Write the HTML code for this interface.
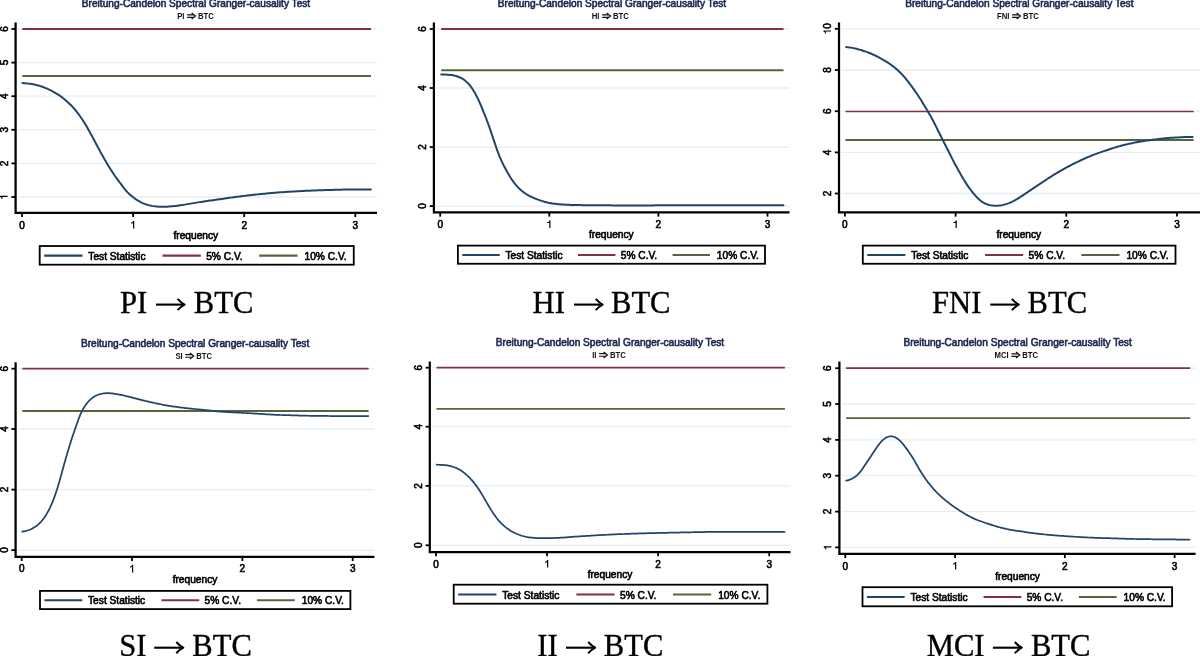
<!DOCTYPE html>
<html><head><meta charset="utf-8"><title>Breitung-Candelon Spectral Granger-causality Tests</title>
<style>html,body{margin:0;padding:0;background:#fff;width:1200px;height:656px;overflow:hidden}svg{display:block;will-change:transform}</style>
</head><body>
<svg width="1200" height="656" viewBox="0 0 1200 656">
<rect width="1200" height="656" fill="#fff"/>
<line x1="18.10" y1="29.00" x2="377.00" y2="29.00" stroke="#e7eef1" stroke-width="1.3"/>
<line x1="18.10" y1="62.60" x2="377.00" y2="62.60" stroke="#e7eef1" stroke-width="1.3"/>
<line x1="18.10" y1="96.20" x2="377.00" y2="96.20" stroke="#e7eef1" stroke-width="1.3"/>
<line x1="18.10" y1="129.80" x2="377.00" y2="129.80" stroke="#e7eef1" stroke-width="1.3"/>
<line x1="18.10" y1="163.40" x2="377.00" y2="163.40" stroke="#e7eef1" stroke-width="1.3"/>
<line x1="18.10" y1="197.00" x2="377.00" y2="197.00" stroke="#e7eef1" stroke-width="1.3"/>
<line x1="22.30" y1="29.00" x2="371.00" y2="29.00" stroke="#86303d" stroke-width="2.00"/>
<line x1="22.30" y1="76.00" x2="371.00" y2="76.00" stroke="#56663b" stroke-width="2.00"/>
<path d="M22.50,83.10 L23.99,83.21 L25.49,83.33 L26.98,83.47 L28.47,83.62 L29.96,83.81 L31.44,84.03 L32.91,84.28 L34.38,84.57 L35.84,84.89 L37.29,85.26 L38.74,85.65 L40.17,86.08 L41.60,86.55 L43.01,87.04 L44.41,87.56 L45.80,88.12 L47.18,88.70 L48.55,89.31 L49.90,89.95 L51.25,90.62 L52.57,91.31 L53.89,92.03 L55.18,92.78 L56.47,93.55 L57.73,94.35 L58.98,95.18 L60.21,96.03 L61.43,96.91 L62.62,97.81 L63.80,98.73 L64.97,99.68 L66.11,100.65 L67.24,101.64 L68.34,102.64 L69.43,103.67 L70.50,104.72 L71.55,105.79 L72.58,106.88 L73.59,107.98 L74.58,109.11 L75.55,110.25 L76.49,111.41 L77.42,112.59 L78.33,113.79 L79.21,115.00 L80.08,116.22 L80.94,117.45 L81.78,118.69 L82.61,119.94 L83.42,121.20 L84.22,122.47 L85.00,123.74 L85.78,125.03 L86.54,126.32 L87.29,127.62 L88.03,128.92 L88.76,130.23 L89.49,131.54 L90.22,132.86 L90.94,134.17 L91.66,135.49 L92.37,136.81 L93.09,138.13 L93.79,139.45 L94.50,140.77 L95.20,142.10 L95.90,143.43 L96.60,144.75 L97.30,146.08 L98.00,147.40 L98.71,148.73 L99.42,150.05 L100.13,151.37 L100.85,152.68 L101.58,153.99 L102.31,155.30 L103.05,156.61 L103.79,157.92 L104.53,159.22 L105.28,160.52 L106.04,161.81 L106.80,163.10 L107.57,164.39 L108.34,165.68 L109.12,166.96 L109.91,168.23 L110.71,169.50 L111.51,170.77 L112.32,172.03 L113.14,173.29 L113.97,174.53 L114.82,175.77 L115.69,176.99 L116.57,178.20 L117.47,179.40 L118.37,180.60 L119.28,181.79 L120.17,182.99 L121.06,184.20 L121.94,185.41 L122.82,186.62 L123.72,187.81 L124.64,188.99 L125.59,190.14 L126.58,191.26 L127.61,192.34 L128.67,193.39 L129.77,194.40 L130.90,195.39 L132.05,196.35 L133.22,197.28 L134.41,198.18 L135.62,199.06 L136.86,199.91 L138.12,200.71 L139.40,201.46 L140.72,202.17 L142.06,202.81 L143.43,203.40 L144.82,203.94 L146.23,204.42 L147.66,204.86 L149.11,205.24 L150.56,205.58 L152.03,205.87 L153.50,206.12 L154.98,206.32 L156.47,206.48 L157.96,206.61 L159.45,206.70 L160.95,206.75 L162.45,206.77 L163.95,206.75 L165.44,206.71 L166.94,206.65 L168.44,206.56 L169.93,206.46 L171.43,206.35 L172.92,206.22 L174.41,206.08 L175.91,205.92 L177.39,205.74 L178.88,205.55 L180.37,205.34 L181.85,205.11 L183.33,204.87 L184.81,204.63 L186.29,204.38 L187.77,204.13 L189.24,203.87 L190.72,203.62 L192.20,203.37 L193.68,203.12 L195.16,202.87 L196.64,202.62 L198.12,202.37 L199.60,202.13 L201.08,201.89 L202.56,201.66 L204.04,201.44 L205.53,201.22 L207.01,201.02 L208.50,200.81 L209.99,200.61 L211.47,200.41 L212.96,200.21 L214.44,200.00 L215.93,199.79 L217.41,199.57 L218.90,199.36 L220.38,199.14 L221.87,198.93 L223.35,198.71 L224.83,198.49 L226.32,198.27 L227.80,198.06 L229.29,197.84 L230.77,197.63 L232.26,197.42 L233.74,197.22 L235.23,197.01 L236.72,196.82 L238.20,196.62 L239.69,196.43 L241.18,196.25 L242.67,196.06 L244.16,195.88 L245.65,195.70 L247.14,195.53 L248.63,195.35 L250.12,195.18 L251.61,195.01 L253.10,194.85 L254.59,194.69 L256.08,194.53 L257.57,194.37 L259.07,194.22 L260.56,194.07 L262.05,193.93 L263.54,193.78 L265.04,193.64 L266.53,193.50 L268.02,193.37 L269.52,193.23 L271.01,193.10 L272.51,192.97 L274.00,192.84 L275.50,192.72 L276.99,192.60 L278.49,192.48 L279.98,192.37 L281.48,192.26 L282.98,192.15 L284.47,192.05 L285.97,191.95 L287.46,191.85 L288.96,191.75 L290.46,191.66 L291.96,191.57 L293.45,191.48 L294.95,191.39 L296.45,191.31 L297.95,191.23 L299.44,191.15 L300.94,191.07 L302.44,190.99 L303.94,190.92 L305.44,190.85 L306.94,190.78 L308.43,190.72 L309.93,190.66 L311.43,190.59 L312.93,190.54 L314.43,190.48 L315.93,190.42 L317.43,190.37 L318.93,190.32 L320.43,190.26 L321.92,190.21 L323.42,190.17 L324.92,190.12 L326.42,190.07 L327.92,190.03 L329.42,189.99 L330.92,189.94 L332.42,189.90 L333.92,189.86 L335.42,189.82 L336.92,189.78 L338.42,189.74 L339.92,189.70 L341.42,189.66 L342.92,189.62 L344.42,189.58 L345.91,189.55 L347.41,189.51 L348.91,189.49 L350.41,189.46 L351.91,189.44 L353.41,189.43 L354.91,189.42 L356.41,189.41 L357.91,189.41 L359.41,189.40 L360.91,189.40 L362.41,189.40 L363.91,189.40 L365.41,189.40 L366.91,189.40 L368.41,189.40 L369.91,189.40 L370.91,189.40" fill="none" stroke="#214569" stroke-width="2.00" stroke-linejoin="round" stroke-linecap="round"/>
<path d="M15.60,22.50 L15.60,212.90 L377.00,212.90" fill="none" stroke="#000" stroke-width="2.25"/>
<line x1="11.40" y1="29.00" x2="15.60" y2="29.00" stroke="#000" stroke-width="1.8"/>
<g transform="translate(7.60,29.00) rotate(-90)"><text x="-2.78" y="0.00" font-size="10.0" font-family="Liberation Sans, sans-serif" fill="#000" stroke="#000" stroke-width="0.60">6</text></g>
<line x1="11.40" y1="62.60" x2="15.60" y2="62.60" stroke="#000" stroke-width="1.8"/>
<g transform="translate(7.60,62.60) rotate(-90)"><text x="-2.78" y="0.00" font-size="10.0" font-family="Liberation Sans, sans-serif" fill="#000" stroke="#000" stroke-width="0.60">5</text></g>
<line x1="11.40" y1="96.20" x2="15.60" y2="96.20" stroke="#000" stroke-width="1.8"/>
<g transform="translate(7.60,96.20) rotate(-90)"><text x="-2.78" y="0.00" font-size="10.0" font-family="Liberation Sans, sans-serif" fill="#000" stroke="#000" stroke-width="0.60">4</text></g>
<line x1="11.40" y1="129.80" x2="15.60" y2="129.80" stroke="#000" stroke-width="1.8"/>
<g transform="translate(7.60,129.80) rotate(-90)"><text x="-2.78" y="0.00" font-size="10.0" font-family="Liberation Sans, sans-serif" fill="#000" stroke="#000" stroke-width="0.60">3</text></g>
<line x1="11.40" y1="163.40" x2="15.60" y2="163.40" stroke="#000" stroke-width="1.8"/>
<g transform="translate(7.60,163.40) rotate(-90)"><text x="-2.78" y="0.00" font-size="10.0" font-family="Liberation Sans, sans-serif" fill="#000" stroke="#000" stroke-width="0.60">2</text></g>
<line x1="11.40" y1="197.00" x2="15.60" y2="197.00" stroke="#000" stroke-width="1.8"/>
<g transform="translate(7.60,197.00) rotate(-90)"><path d="M1.17,-7.60 L-0.03,-7.60 C-0.18,-6.70 -0.78,-6.00 -2.03,-5.90 L-2.03,-4.95 C-1.08,-4.95 -0.43,-5.20 -0.03,-5.55 L-0.03,0.00 L1.17,0.00 Z" fill="#000"/></g>
<line x1="22.00" y1="212.90" x2="22.00" y2="217.10" stroke="#000" stroke-width="1.8"/>
<text x="19.22" y="228.50" font-size="10.0" font-family="Liberation Sans, sans-serif" fill="#000" stroke="#000" stroke-width="0.60">0</text>
<line x1="133.10" y1="212.90" x2="133.10" y2="217.10" stroke="#000" stroke-width="1.8"/>
<path d="M134.27,220.90 L133.07,220.90 C132.92,221.80 132.32,222.50 131.07,222.60 L131.07,223.55 C132.02,223.55 132.67,223.30 133.07,222.95 L133.07,228.50 L134.27,228.50 Z" fill="#000"/>
<line x1="244.20" y1="212.90" x2="244.20" y2="217.10" stroke="#000" stroke-width="1.8"/>
<text x="241.42" y="228.50" font-size="10.0" font-family="Liberation Sans, sans-serif" fill="#000" stroke="#000" stroke-width="0.60">2</text>
<line x1="355.30" y1="212.90" x2="355.30" y2="217.10" stroke="#000" stroke-width="1.8"/>
<text x="352.52" y="228.50" font-size="10.0" font-family="Liberation Sans, sans-serif" fill="#000" stroke="#000" stroke-width="0.60">3</text>
<text x="195.80" y="238.60" text-anchor="middle" font-size="10.2" font-family="Liberation Sans, sans-serif" fill="#000" stroke="#000" stroke-width="0.60">frequency</text>
<text x="196.00" y="7.10" text-anchor="middle" font-size="10.15" font-family="Liberation Sans, sans-serif" fill="#1a2850" stroke="#1a2850" stroke-width="0.60">Breitung-Candelon Spectral Granger-causality Test</text>
<text transform="translate(177.14,19.00) scale(0.860,1)" font-size="9.0" font-weight="bold" font-family="Liberation Sans, sans-serif" fill="#111">PI</text>
<path d="M187.05,14.80 H193.35 M187.05,17.40 H193.35" stroke="#111" stroke-width="1.15" fill="none"/><path d="M191.65,13.10 L195.35,16.10 L191.65,19.10" stroke="#111" stroke-width="1.3" fill="none" stroke-linejoin="miter"/>
<text transform="translate(197.95,19.00) scale(0.860,1)" font-size="9.0" font-weight="bold" font-family="Liberation Sans, sans-serif" fill="#111">BTC</text>
<rect x="39.70" y="246.00" width="314.05" height="18.70" fill="#fff" stroke="#000" stroke-width="1.8"/>
<line x1="44.20" y1="255.63" x2="82.50" y2="255.63" stroke="#214569" stroke-width="2.1"/>
<text x="88.30" y="259.65" font-size="10.2" font-family="Liberation Sans, sans-serif" fill="#000" stroke="#000" stroke-width="0.60">Test Statistic</text>
<line x1="162.50" y1="255.63" x2="200.80" y2="255.63" stroke="#86303d" stroke-width="2.1"/>
<text x="206.20" y="259.65" font-size="10.2" font-family="Liberation Sans, sans-serif" fill="#000" stroke="#000" stroke-width="0.60">5% C.V.</text>
<line x1="259.20" y1="255.63" x2="297.50" y2="255.63" stroke="#56663b" stroke-width="2.1"/>
<text x="304.50" y="259.65" font-size="10.2" font-family="Liberation Sans, sans-serif" fill="#000" stroke="#000" stroke-width="0.60">10% C.V.</text>
<text x="120.05" y="312.50" font-size="30.6" font-family="Liberation Serif, serif" fill="#000" stroke="#000" stroke-width="0.35">PI</text>
<path d="M156.00,304.60 H183.80" stroke="#000" stroke-width="2.1" fill="none"/><path d="M177.60,298.90 Q181.20,302.90 184.60,304.60 Q181.20,306.30 177.60,310.10" stroke="#000" stroke-width="2.0" fill="none" stroke-linejoin="round"/>
<text x="193.85" y="312.50" font-size="30.6" font-family="Liberation Serif, serif" fill="#000" stroke="#000" stroke-width="0.35">BTC</text>
<line x1="436.40" y1="29.00" x2="789.50" y2="29.00" stroke="#e7eef1" stroke-width="1.3"/>
<line x1="436.40" y1="88.00" x2="789.50" y2="88.00" stroke="#e7eef1" stroke-width="1.3"/>
<line x1="436.40" y1="147.10" x2="789.50" y2="147.10" stroke="#e7eef1" stroke-width="1.3"/>
<line x1="436.40" y1="206.10" x2="789.50" y2="206.10" stroke="#e7eef1" stroke-width="1.3"/>
<line x1="441.20" y1="29.00" x2="783.50" y2="29.00" stroke="#86303d" stroke-width="2.00"/>
<line x1="441.20" y1="70.30" x2="783.50" y2="70.30" stroke="#56663b" stroke-width="2.00"/>
<path d="M441.20,74.40 L442.70,74.45 L444.20,74.50 L445.69,74.56 L447.19,74.65 L448.68,74.76 L450.17,74.91 L451.65,75.10 L453.12,75.34 L454.58,75.65 L456.02,76.01 L457.44,76.45 L458.84,76.96 L460.19,77.55 L461.52,78.22 L462.79,78.96 L464.02,79.79 L465.21,80.68 L466.34,81.64 L467.42,82.66 L468.45,83.74 L469.43,84.86 L470.37,86.01 L471.27,87.21 L472.13,88.43 L472.95,89.68 L473.74,90.95 L474.50,92.24 L475.23,93.54 L475.94,94.86 L476.63,96.20 L477.30,97.54 L477.96,98.89 L478.60,100.24 L479.23,101.60 L479.84,102.97 L480.44,104.34 L481.03,105.72 L481.61,107.10 L482.19,108.49 L482.75,109.88 L483.32,111.27 L483.87,112.66 L484.43,114.06 L484.98,115.45 L485.52,116.85 L486.07,118.25 L486.60,119.65 L487.13,121.05 L487.66,122.46 L488.18,123.86 L488.69,125.27 L489.20,126.68 L489.70,128.10 L490.19,129.51 L490.68,130.93 L491.16,132.35 L491.64,133.77 L492.12,135.20 L492.59,136.62 L493.07,138.04 L493.55,139.46 L494.02,140.89 L494.50,142.31 L494.99,143.73 L495.47,145.15 L495.95,146.57 L496.44,147.99 L496.93,149.40 L497.43,150.82 L497.94,152.23 L498.46,153.63 L499.00,155.03 L499.55,156.43 L500.13,157.81 L500.73,159.18 L501.34,160.55 L501.98,161.91 L502.63,163.26 L503.30,164.60 L503.99,165.93 L504.68,167.26 L505.39,168.58 L506.11,169.90 L506.83,171.21 L507.56,172.52 L508.30,173.83 L509.06,175.12 L509.83,176.41 L510.62,177.68 L511.43,178.94 L512.27,180.17 L513.14,181.40 L514.04,182.60 L514.96,183.78 L515.91,184.93 L516.89,186.06 L517.89,187.17 L518.94,188.24 L520.01,189.27 L521.12,190.27 L522.27,191.23 L523.45,192.14 L524.66,193.02 L525.90,193.85 L527.17,194.64 L528.46,195.39 L529.78,196.10 L531.12,196.76 L532.47,197.40 L533.85,197.99 L535.23,198.56 L536.63,199.11 L538.03,199.64 L539.44,200.15 L540.85,200.64 L542.28,201.11 L543.70,201.56 L545.14,201.96 L546.59,202.33 L548.05,202.66 L549.52,202.95 L550.99,203.21 L552.47,203.44 L553.96,203.65 L555.45,203.83 L556.94,204.00 L558.43,204.16 L559.92,204.30 L561.41,204.42 L562.91,204.53 L564.41,204.62 L565.90,204.70 L567.40,204.77 L568.90,204.83 L570.40,204.88 L571.90,204.92 L573.40,204.96 L574.90,205.00 L576.40,205.03 L577.90,205.07 L579.40,205.10 L580.90,205.12 L582.40,205.15 L583.90,205.17 L585.40,205.19 L586.90,205.21 L588.40,205.23 L589.90,205.25 L591.40,205.26 L592.90,205.28 L594.40,205.29 L595.90,205.30 L597.40,205.31 L598.90,205.32 L600.40,205.32 L601.90,205.33 L603.40,205.34 L604.90,205.35 L606.40,205.35 L607.90,205.36 L609.40,205.37 L610.90,205.37 L612.40,205.38 L613.90,205.38 L615.40,205.39 L616.90,205.39 L618.40,205.39 L619.90,205.39 L621.40,205.40 L622.90,205.40 L624.40,205.40 L625.90,205.40 L627.40,205.40 L628.90,205.40 L630.40,205.40 L631.90,205.40 L633.40,205.40 L634.90,205.40 L636.40,205.40 L637.90,205.39 L639.40,205.39 L640.90,205.39 L642.40,205.39 L643.90,205.39 L645.40,205.39 L646.90,205.38 L648.40,205.38 L649.90,205.38 L651.40,205.38 L652.90,205.38 L654.40,205.37 L655.90,205.37 L657.40,205.37 L658.90,205.37 L660.40,205.37 L661.90,205.36 L663.40,205.36 L664.90,205.36 L666.40,205.36 L667.90,205.35 L669.40,205.35 L670.90,205.35 L672.40,205.34 L673.90,205.34 L675.40,205.34 L676.90,205.34 L678.40,205.33 L679.90,205.33 L681.40,205.33 L682.90,205.33 L684.40,205.32 L685.90,205.32 L687.40,205.32 L688.90,205.32 L690.40,205.31 L691.90,205.31 L693.40,205.31 L694.90,205.31 L696.40,205.31 L697.90,205.30 L699.40,205.30 L700.90,205.30 L702.40,205.30 L703.90,205.30 L705.40,205.29 L706.90,205.29 L708.40,205.29 L709.90,205.29 L711.40,205.29 L712.90,205.28 L714.40,205.28 L715.90,205.28 L717.40,205.28 L718.90,205.28 L720.40,205.27 L721.90,205.27 L723.40,205.27 L724.90,205.27 L726.40,205.27 L727.90,205.27 L729.40,205.26 L730.90,205.26 L732.40,205.26 L733.90,205.26 L735.40,205.26 L736.90,205.25 L738.40,205.25 L739.90,205.25 L741.40,205.25 L742.90,205.25 L744.40,205.25 L745.90,205.24 L747.40,205.24 L748.90,205.24 L750.40,205.24 L751.90,205.24 L753.40,205.23 L754.90,205.23 L756.40,205.23 L757.90,205.23 L759.40,205.23 L760.90,205.23 L762.40,205.22 L763.90,205.22 L765.40,205.22 L766.90,205.22 L768.40,205.22 L769.90,205.22 L771.40,205.21 L772.90,205.21 L774.40,205.21 L775.90,205.21 L777.40,205.21 L778.90,205.21 L780.40,205.20 L781.90,205.20 L783.40,205.20" fill="none" stroke="#214569" stroke-width="2.00" stroke-linejoin="round" stroke-linecap="round"/>
<path d="M433.90,22.60 L433.90,212.40 L789.50,212.40" fill="none" stroke="#000" stroke-width="2.25"/>
<line x1="429.70" y1="29.00" x2="433.90" y2="29.00" stroke="#000" stroke-width="1.8"/>
<g transform="translate(425.90,29.00) rotate(-90)"><text x="-2.78" y="0.00" font-size="10.0" font-family="Liberation Sans, sans-serif" fill="#000" stroke="#000" stroke-width="0.60">6</text></g>
<line x1="429.70" y1="88.00" x2="433.90" y2="88.00" stroke="#000" stroke-width="1.8"/>
<g transform="translate(425.90,88.00) rotate(-90)"><text x="-2.78" y="0.00" font-size="10.0" font-family="Liberation Sans, sans-serif" fill="#000" stroke="#000" stroke-width="0.60">4</text></g>
<line x1="429.70" y1="147.10" x2="433.90" y2="147.10" stroke="#000" stroke-width="1.8"/>
<g transform="translate(425.90,147.10) rotate(-90)"><text x="-2.78" y="0.00" font-size="10.0" font-family="Liberation Sans, sans-serif" fill="#000" stroke="#000" stroke-width="0.60">2</text></g>
<line x1="429.70" y1="206.10" x2="433.90" y2="206.10" stroke="#000" stroke-width="1.8"/>
<g transform="translate(425.90,206.10) rotate(-90)"><text x="-2.78" y="0.00" font-size="10.0" font-family="Liberation Sans, sans-serif" fill="#000" stroke="#000" stroke-width="0.60">0</text></g>
<line x1="440.20" y1="212.40" x2="440.20" y2="216.60" stroke="#000" stroke-width="1.8"/>
<text x="437.42" y="228.00" font-size="10.0" font-family="Liberation Sans, sans-serif" fill="#000" stroke="#000" stroke-width="0.60">0</text>
<line x1="549.30" y1="212.40" x2="549.30" y2="216.60" stroke="#000" stroke-width="1.8"/>
<path d="M550.47,220.40 L549.27,220.40 C549.12,221.30 548.52,222.00 547.27,222.10 L547.27,223.05 C548.22,223.05 548.87,222.80 549.27,222.45 L549.27,228.00 L550.47,228.00 Z" fill="#000"/>
<line x1="658.40" y1="212.40" x2="658.40" y2="216.60" stroke="#000" stroke-width="1.8"/>
<text x="655.62" y="228.00" font-size="10.0" font-family="Liberation Sans, sans-serif" fill="#000" stroke="#000" stroke-width="0.60">2</text>
<line x1="767.50" y1="212.40" x2="767.50" y2="216.60" stroke="#000" stroke-width="1.8"/>
<text x="764.72" y="228.00" font-size="10.0" font-family="Liberation Sans, sans-serif" fill="#000" stroke="#000" stroke-width="0.60">3</text>
<text x="611.30" y="238.10" text-anchor="middle" font-size="10.2" font-family="Liberation Sans, sans-serif" fill="#000" stroke="#000" stroke-width="0.60">frequency</text>
<text x="612.00" y="7.10" text-anchor="middle" font-size="10.15" font-family="Liberation Sans, sans-serif" fill="#1a2850" stroke="#1a2850" stroke-width="0.60">Breitung-Candelon Spectral Granger-causality Test</text>
<text transform="translate(591.72,19.00) scale(0.860,1)" font-size="9.0" font-weight="bold" font-family="Liberation Sans, sans-serif" fill="#111">HI</text>
<path d="M602.07,14.80 H608.37 M602.07,17.40 H608.37" stroke="#111" stroke-width="1.15" fill="none"/><path d="M606.67,13.10 L610.37,16.10 L606.67,19.10" stroke="#111" stroke-width="1.3" fill="none" stroke-linejoin="miter"/>
<text transform="translate(612.97,19.00) scale(0.860,1)" font-size="9.0" font-weight="bold" font-family="Liberation Sans, sans-serif" fill="#111">BTC</text>
<rect x="457.90" y="245.60" width="307.10" height="18.15" fill="#fff" stroke="#000" stroke-width="1.8"/>
<line x1="462.30" y1="254.95" x2="499.75" y2="254.95" stroke="#214569" stroke-width="2.1"/>
<text x="505.42" y="258.85" font-size="10.2" font-family="Liberation Sans, sans-serif" fill="#000" stroke="#000" stroke-width="0.60">Test Statistic</text>
<line x1="577.98" y1="254.95" x2="615.43" y2="254.95" stroke="#86303d" stroke-width="2.1"/>
<text x="620.72" y="258.85" font-size="10.2" font-family="Liberation Sans, sans-serif" fill="#000" stroke="#000" stroke-width="0.60">5% C.V.</text>
<line x1="672.54" y1="254.95" x2="709.99" y2="254.95" stroke="#56663b" stroke-width="2.1"/>
<text x="716.84" y="258.85" font-size="10.2" font-family="Liberation Sans, sans-serif" fill="#000" stroke="#000" stroke-width="0.60">10% C.V.</text>
<text x="532.60" y="312.50" font-size="30.6" font-family="Liberation Serif, serif" fill="#000" stroke="#000" stroke-width="0.35">HI</text>
<path d="M574.00,304.60 H601.90" stroke="#000" stroke-width="2.1" fill="none"/><path d="M595.70,298.90 Q599.30,302.90 602.70,304.60 Q599.30,306.30 595.70,310.10" stroke="#000" stroke-width="2.0" fill="none" stroke-linejoin="round"/>
<text x="611.02" y="312.50" font-size="30.6" font-family="Liberation Serif, serif" fill="#000" stroke="#000" stroke-width="0.35">BTC</text>
<line x1="841.50" y1="28.80" x2="1201.00" y2="28.80" stroke="#e7eef1" stroke-width="1.3"/>
<line x1="841.50" y1="70.00" x2="1201.00" y2="70.00" stroke="#e7eef1" stroke-width="1.3"/>
<line x1="841.50" y1="111.20" x2="1201.00" y2="111.20" stroke="#e7eef1" stroke-width="1.3"/>
<line x1="841.50" y1="152.40" x2="1201.00" y2="152.40" stroke="#e7eef1" stroke-width="1.3"/>
<line x1="841.50" y1="193.50" x2="1201.00" y2="193.50" stroke="#e7eef1" stroke-width="1.3"/>
<line x1="845.50" y1="111.40" x2="1193.70" y2="111.40" stroke="#86303d" stroke-width="1.50"/>
<line x1="845.50" y1="139.90" x2="1193.70" y2="139.90" stroke="#56663b" stroke-width="2.00"/>
<path d="M846.20,47.10 L847.69,47.26 L849.18,47.43 L850.66,47.63 L852.14,47.86 L853.61,48.13 L855.07,48.45 L856.52,48.80 L857.97,49.18 L859.41,49.59 L860.85,50.02 L862.28,50.47 L863.70,50.93 L865.12,51.41 L866.54,51.91 L867.94,52.43 L869.34,52.97 L870.73,53.54 L872.11,54.12 L873.48,54.73 L874.84,55.36 L876.19,56.01 L877.53,56.68 L878.86,57.37 L880.18,58.08 L881.49,58.81 L882.79,59.56 L884.08,60.32 L885.36,61.10 L886.63,61.90 L887.89,62.71 L889.14,63.53 L890.38,64.37 L891.61,65.24 L892.82,66.12 L894.01,67.02 L895.19,67.95 L896.34,68.91 L897.46,69.90 L898.56,70.91 L899.64,71.95 L900.70,73.01 L901.73,74.09 L902.75,75.19 L903.74,76.31 L904.72,77.45 L905.68,78.60 L906.63,79.76 L907.56,80.94 L908.48,82.13 L909.39,83.32 L910.29,84.52 L911.18,85.72 L912.06,86.93 L912.94,88.15 L913.81,89.37 L914.68,90.59 L915.54,91.83 L916.38,93.06 L917.23,94.30 L918.06,95.55 L918.88,96.80 L919.70,98.06 L920.51,99.32 L921.31,100.59 L922.11,101.86 L922.89,103.14 L923.68,104.42 L924.45,105.70 L925.23,106.99 L926.00,108.28 L926.76,109.57 L927.52,110.86 L928.28,112.15 L929.04,113.45 L929.79,114.74 L930.54,116.04 L931.27,117.35 L932.00,118.66 L932.71,119.98 L933.41,121.31 L934.09,122.64 L934.77,123.98 L935.44,125.33 L936.10,126.67 L936.77,128.01 L937.43,129.36 L938.10,130.70 L938.77,132.05 L939.44,133.39 L940.11,134.73 L940.78,136.07 L941.45,137.41 L942.13,138.75 L942.81,140.09 L943.49,141.42 L944.17,142.76 L944.86,144.09 L945.54,145.43 L946.23,146.76 L946.91,148.10 L947.59,149.44 L948.26,150.78 L948.93,152.12 L949.60,153.46 L950.27,154.80 L950.93,156.15 L951.60,157.49 L952.27,158.83 L952.95,160.17 L953.63,161.51 L954.32,162.84 L955.02,164.16 L955.73,165.48 L956.45,166.80 L957.18,168.11 L957.91,169.42 L958.65,170.73 L959.39,172.03 L960.13,173.34 L960.87,174.64 L961.62,175.94 L962.37,177.24 L963.12,178.54 L963.89,179.82 L964.67,181.10 L965.46,182.38 L966.28,183.63 L967.11,184.88 L967.96,186.12 L968.82,187.34 L969.70,188.56 L970.60,189.76 L971.51,190.95 L972.43,192.13 L973.38,193.29 L974.34,194.44 L975.31,195.58 L976.32,196.69 L977.34,197.78 L978.40,198.83 L979.49,199.84 L980.63,200.79 L981.81,201.67 L983.05,202.48 L984.34,203.19 L985.67,203.80 L987.05,204.33 L988.47,204.77 L989.91,205.12 L991.36,205.40 L992.83,205.60 L994.31,205.72 L995.80,205.76 L997.28,205.73 L998.76,205.61 L1000.24,205.42 L1001.71,205.18 L1003.17,204.87 L1004.62,204.51 L1006.05,204.10 L1007.47,203.64 L1008.88,203.13 L1010.26,202.57 L1011.63,201.97 L1012.97,201.32 L1014.29,200.62 L1015.60,199.89 L1016.89,199.13 L1018.16,198.34 L1019.43,197.54 L1020.70,196.74 L1021.96,195.92 L1023.21,195.10 L1024.47,194.28 L1025.72,193.45 L1026.97,192.62 L1028.21,191.79 L1029.46,190.95 L1030.71,190.12 L1031.95,189.28 L1033.19,188.44 L1034.44,187.61 L1035.68,186.77 L1036.93,185.93 L1038.17,185.09 L1039.41,184.25 L1040.66,183.41 L1041.90,182.57 L1043.15,181.74 L1044.39,180.91 L1045.65,180.08 L1046.90,179.25 L1048.15,178.43 L1049.41,177.62 L1050.68,176.81 L1051.94,176.01 L1053.22,175.21 L1054.49,174.42 L1055.77,173.64 L1057.06,172.87 L1058.35,172.10 L1059.64,171.35 L1060.94,170.60 L1062.24,169.85 L1063.55,169.12 L1064.86,168.39 L1066.18,167.67 L1067.50,166.96 L1068.82,166.25 L1070.15,165.56 L1071.48,164.87 L1072.81,164.18 L1074.15,163.51 L1075.50,162.84 L1076.84,162.18 L1078.19,161.53 L1079.55,160.88 L1080.91,160.25 L1082.27,159.62 L1083.63,159.00 L1085.00,158.38 L1086.38,157.78 L1087.75,157.19 L1089.13,156.60 L1090.52,156.03 L1091.91,155.47 L1093.31,154.92 L1094.71,154.39 L1096.12,153.87 L1097.53,153.37 L1098.94,152.87 L1100.36,152.37 L1101.78,151.88 L1103.19,151.40 L1104.61,150.91 L1106.04,150.43 L1107.46,149.96 L1108.88,149.49 L1110.31,149.02 L1111.73,148.56 L1113.16,148.10 L1114.60,147.66 L1116.03,147.22 L1117.47,146.79 L1118.91,146.38 L1120.35,145.97 L1121.80,145.58 L1123.25,145.21 L1124.71,144.84 L1126.16,144.48 L1127.62,144.14 L1129.08,143.80 L1130.55,143.48 L1132.02,143.16 L1133.48,142.86 L1134.96,142.57 L1136.43,142.29 L1137.90,142.02 L1139.38,141.76 L1140.86,141.51 L1142.34,141.27 L1143.82,141.04 L1145.31,140.82 L1146.79,140.60 L1148.27,140.39 L1149.76,140.18 L1151.25,139.98 L1152.73,139.78 L1154.22,139.58 L1155.71,139.39 L1157.20,139.20 L1158.68,139.02 L1160.17,138.85 L1161.66,138.68 L1163.16,138.52 L1164.65,138.36 L1166.14,138.22 L1167.63,138.09 L1169.13,137.97 L1170.62,137.85 L1172.12,137.75 L1173.62,137.64 L1175.11,137.55 L1176.61,137.46 L1178.11,137.38 L1179.61,137.31 L1181.11,137.24 L1182.60,137.18 L1184.10,137.12 L1185.60,137.08 L1187.10,137.03 L1188.60,136.99 L1190.10,136.96 L1191.60,136.92 L1192.60,136.90" fill="none" stroke="#214569" stroke-width="2.00" stroke-linejoin="round" stroke-linecap="round"/>
<path d="M839.00,22.60 L839.00,212.40 L1201.00,212.40" fill="none" stroke="#000" stroke-width="2.25"/>
<line x1="834.80" y1="28.80" x2="839.00" y2="28.80" stroke="#000" stroke-width="1.8"/>
<g transform="translate(831.00,28.80) rotate(-90)"><path d="M-1.61,-7.60 L-2.81,-7.60 C-2.96,-6.70 -3.56,-6.00 -4.81,-5.90 L-4.81,-4.95 C-3.86,-4.95 -3.21,-5.20 -2.81,-5.55 L-2.81,0.00 L-1.61,0.00 Z" fill="#000"/><text x="0.00" y="0.00" font-size="10.0" font-family="Liberation Sans, sans-serif" fill="#000" stroke="#000" stroke-width="0.60">0</text></g>
<line x1="834.80" y1="70.00" x2="839.00" y2="70.00" stroke="#000" stroke-width="1.8"/>
<g transform="translate(831.00,70.00) rotate(-90)"><text x="-2.78" y="0.00" font-size="10.0" font-family="Liberation Sans, sans-serif" fill="#000" stroke="#000" stroke-width="0.60">8</text></g>
<line x1="834.80" y1="111.20" x2="839.00" y2="111.20" stroke="#000" stroke-width="1.8"/>
<g transform="translate(831.00,111.20) rotate(-90)"><text x="-2.78" y="0.00" font-size="10.0" font-family="Liberation Sans, sans-serif" fill="#000" stroke="#000" stroke-width="0.60">6</text></g>
<line x1="834.80" y1="152.40" x2="839.00" y2="152.40" stroke="#000" stroke-width="1.8"/>
<g transform="translate(831.00,152.40) rotate(-90)"><text x="-2.78" y="0.00" font-size="10.0" font-family="Liberation Sans, sans-serif" fill="#000" stroke="#000" stroke-width="0.60">4</text></g>
<line x1="834.80" y1="193.50" x2="839.00" y2="193.50" stroke="#000" stroke-width="1.8"/>
<g transform="translate(831.00,193.50) rotate(-90)"><text x="-2.78" y="0.00" font-size="10.0" font-family="Liberation Sans, sans-serif" fill="#000" stroke="#000" stroke-width="0.60">2</text></g>
<line x1="844.90" y1="212.40" x2="844.90" y2="216.60" stroke="#000" stroke-width="1.8"/>
<text x="842.12" y="228.00" font-size="10.0" font-family="Liberation Sans, sans-serif" fill="#000" stroke="#000" stroke-width="0.60">0</text>
<line x1="955.60" y1="212.40" x2="955.60" y2="216.60" stroke="#000" stroke-width="1.8"/>
<path d="M956.77,220.40 L955.57,220.40 C955.42,221.30 954.82,222.00 953.57,222.10 L953.57,223.05 C954.52,223.05 955.17,222.80 955.57,222.45 L955.57,228.00 L956.77,228.00 Z" fill="#000"/>
<line x1="1066.30" y1="212.40" x2="1066.30" y2="216.60" stroke="#000" stroke-width="1.8"/>
<text x="1063.52" y="228.00" font-size="10.0" font-family="Liberation Sans, sans-serif" fill="#000" stroke="#000" stroke-width="0.60">2</text>
<line x1="1177.00" y1="212.40" x2="1177.00" y2="216.60" stroke="#000" stroke-width="1.8"/>
<text x="1174.22" y="228.00" font-size="10.0" font-family="Liberation Sans, sans-serif" fill="#000" stroke="#000" stroke-width="0.60">3</text>
<text x="1018.80" y="238.10" text-anchor="middle" font-size="10.2" font-family="Liberation Sans, sans-serif" fill="#000" stroke="#000" stroke-width="0.60">frequency</text>
<text x="1019.30" y="7.10" text-anchor="middle" font-size="10.15" font-family="Liberation Sans, sans-serif" fill="#1a2850" stroke="#1a2850" stroke-width="0.60">Breitung-Candelon Spectral Granger-causality Test</text>
<text transform="translate(996.96,19.00) scale(0.860,1)" font-size="9.0" font-weight="bold" font-family="Liberation Sans, sans-serif" fill="#111">FNI</text>
<path d="M1012.03,14.80 H1018.33 M1012.03,17.40 H1018.33" stroke="#111" stroke-width="1.15" fill="none"/><path d="M1016.63,13.10 L1020.33,16.10 L1016.63,19.10" stroke="#111" stroke-width="1.3" fill="none" stroke-linejoin="miter"/>
<text transform="translate(1022.93,19.00) scale(0.860,1)" font-size="9.0" font-weight="bold" font-family="Liberation Sans, sans-serif" fill="#111">BTC</text>
<rect x="862.80" y="245.60" width="312.70" height="18.15" fill="#fff" stroke="#000" stroke-width="1.8"/>
<line x1="867.28" y1="254.95" x2="905.42" y2="254.95" stroke="#214569" stroke-width="2.1"/>
<text x="911.19" y="258.85" font-size="10.2" font-family="Liberation Sans, sans-serif" fill="#000" stroke="#000" stroke-width="0.60">Test Statistic</text>
<line x1="985.07" y1="254.95" x2="1023.21" y2="254.95" stroke="#86303d" stroke-width="2.1"/>
<text x="1028.58" y="258.85" font-size="10.2" font-family="Liberation Sans, sans-serif" fill="#000" stroke="#000" stroke-width="0.60">5% C.V.</text>
<line x1="1081.36" y1="254.95" x2="1119.49" y2="254.95" stroke="#56663b" stroke-width="2.1"/>
<text x="1126.46" y="258.85" font-size="10.2" font-family="Liberation Sans, sans-serif" fill="#000" stroke="#000" stroke-width="0.60">10% C.V.</text>
<text x="932.10" y="312.50" font-size="30.6" font-family="Liberation Serif, serif" fill="#000" stroke="#000" stroke-width="0.35">FNI</text>
<path d="M990.20,304.60 H1018.00" stroke="#000" stroke-width="2.1" fill="none"/><path d="M1011.80,298.90 Q1015.40,302.90 1018.80,304.60 Q1015.40,306.30 1011.80,310.10" stroke="#000" stroke-width="2.0" fill="none" stroke-linejoin="round"/>
<text x="1027.60" y="312.50" font-size="30.6" font-family="Liberation Serif, serif" fill="#000" stroke="#000" stroke-width="0.35">BTC</text>
<line x1="18.10" y1="368.70" x2="374.40" y2="368.70" stroke="#e7eef1" stroke-width="1.3"/>
<line x1="18.10" y1="429.00" x2="374.40" y2="429.00" stroke="#e7eef1" stroke-width="1.3"/>
<line x1="18.10" y1="489.60" x2="374.40" y2="489.60" stroke="#e7eef1" stroke-width="1.3"/>
<line x1="18.10" y1="550.10" x2="374.40" y2="550.10" stroke="#e7eef1" stroke-width="1.3"/>
<line x1="22.30" y1="368.70" x2="368.60" y2="368.70" stroke="#86303d" stroke-width="1.80"/>
<line x1="22.30" y1="411.00" x2="368.60" y2="411.00" stroke="#56663b" stroke-width="1.80"/>
<path d="M22.30,531.70 L23.76,531.38 L25.22,531.05 L26.66,530.67 L28.09,530.24 L29.49,529.75 L30.87,529.20 L32.21,528.57 L33.52,527.87 L34.79,527.10 L36.02,526.27 L37.20,525.37 L38.33,524.41 L39.42,523.39 L40.46,522.32 L41.45,521.21 L42.41,520.07 L43.33,518.89 L44.21,517.68 L45.06,516.45 L45.87,515.19 L46.66,513.92 L47.41,512.62 L48.14,511.31 L48.84,509.99 L49.52,508.65 L50.18,507.31 L50.81,505.95 L51.43,504.58 L52.02,503.21 L52.60,501.82 L53.15,500.43 L53.69,499.03 L54.21,497.63 L54.72,496.22 L55.21,494.80 L55.70,493.38 L56.17,491.96 L56.64,490.53 L57.10,489.10 L57.55,487.67 L57.99,486.24 L58.42,484.81 L58.85,483.37 L59.27,481.93 L59.67,480.48 L60.08,479.04 L60.47,477.59 L60.87,476.14 L61.26,474.70 L61.65,473.25 L62.05,471.80 L62.44,470.35 L62.84,468.91 L63.24,467.46 L63.64,466.02 L64.05,464.57 L64.45,463.13 L64.86,461.69 L65.28,460.25 L65.69,458.80 L66.11,457.36 L66.52,455.92 L66.94,454.48 L67.36,453.04 L67.79,451.60 L68.22,450.17 L68.65,448.73 L69.09,447.29 L69.53,445.86 L69.97,444.43 L70.42,443.00 L70.87,441.57 L71.33,440.14 L71.79,438.71 L72.26,437.28 L72.73,435.86 L73.20,434.44 L73.68,433.02 L74.16,431.60 L74.65,430.18 L75.14,428.76 L75.64,427.34 L76.14,425.93 L76.63,424.52 L77.14,423.10 L77.64,421.69 L78.15,420.28 L78.67,418.87 L79.20,417.47 L79.75,416.08 L80.32,414.69 L80.92,413.32 L81.56,411.96 L82.22,410.63 L82.93,409.31 L83.68,408.01 L84.47,406.75 L85.30,405.50 L86.17,404.29 L87.08,403.11 L88.04,401.97 L89.04,400.87 L90.09,399.81 L91.18,398.81 L92.33,397.88 L93.53,397.03 L94.79,396.26 L96.10,395.59 L97.45,395.01 L98.84,394.51 L100.27,394.09 L101.71,393.75 L103.17,393.49 L104.64,393.31 L106.13,393.20 L107.61,393.17 L109.10,393.20 L110.59,393.29 L112.08,393.43 L113.57,393.60 L115.05,393.81 L116.53,394.03 L118.01,394.29 L119.48,394.56 L120.95,394.86 L122.42,395.18 L123.88,395.52 L125.33,395.87 L126.79,396.23 L128.24,396.60 L129.70,396.97 L131.15,397.34 L132.60,397.71 L134.06,398.08 L135.51,398.45 L136.97,398.82 L138.42,399.18 L139.87,399.55 L141.33,399.92 L142.78,400.28 L144.24,400.64 L145.70,401.00 L147.15,401.35 L148.61,401.69 L150.08,402.03 L151.54,402.36 L153.00,402.69 L154.47,403.00 L155.94,403.32 L157.40,403.63 L158.87,403.93 L160.34,404.22 L161.82,404.51 L163.29,404.80 L164.76,405.07 L166.24,405.33 L167.72,405.59 L169.20,405.84 L170.68,406.07 L172.16,406.30 L173.64,406.52 L175.13,406.74 L176.61,406.94 L178.10,407.14 L179.59,407.34 L181.08,407.53 L182.56,407.71 L184.05,407.89 L185.54,408.06 L187.03,408.23 L188.52,408.39 L190.02,408.55 L191.51,408.71 L193.00,408.86 L194.49,409.00 L195.99,409.15 L197.48,409.29 L198.97,409.43 L200.47,409.57 L201.96,409.72 L203.45,409.86 L204.94,410.01 L206.44,410.17 L207.93,410.32 L209.42,410.48 L210.91,410.65 L212.40,410.81 L213.89,410.97 L215.38,411.13 L216.88,411.28 L218.37,411.42 L219.86,411.55 L221.36,411.67 L222.85,411.79 L224.35,411.89 L225.85,411.98 L227.34,412.07 L228.84,412.15 L230.34,412.23 L231.84,412.30 L233.34,412.38 L234.83,412.45 L236.33,412.52 L237.83,412.60 L239.33,412.67 L240.83,412.75 L242.33,412.83 L243.82,412.91 L245.32,413.00 L246.82,413.08 L248.32,413.17 L249.81,413.25 L251.31,413.34 L252.81,413.43 L254.31,413.51 L255.80,413.61 L257.30,413.70 L258.80,413.79 L260.29,413.89 L261.79,413.99 L263.29,414.09 L264.78,414.19 L266.28,414.29 L267.78,414.38 L269.27,414.48 L270.77,414.56 L272.27,414.64 L273.77,414.72 L275.27,414.78 L276.76,414.85 L278.26,414.90 L279.76,414.95 L281.26,415.00 L282.76,415.04 L284.26,415.08 L285.76,415.12 L287.26,415.16 L288.76,415.20 L290.26,415.24 L291.76,415.29 L293.26,415.33 L294.76,415.37 L296.26,415.42 L297.76,415.46 L299.25,415.51 L300.75,415.56 L302.25,415.60 L303.75,415.64 L305.25,415.68 L306.75,415.72 L308.25,415.75 L309.75,415.79 L311.25,415.81 L312.75,415.84 L314.25,415.87 L315.75,415.89 L317.25,415.91 L318.75,415.93 L320.25,415.95 L321.75,415.96 L323.25,415.97 L324.75,415.98 L326.25,415.99 L327.75,415.99 L329.25,416.00 L330.75,416.00 L332.25,416.00 L333.75,416.00 L335.25,416.00 L336.75,416.00 L338.25,416.00 L339.75,416.00 L341.25,416.00 L342.75,416.00 L344.25,416.00 L345.75,416.00 L347.25,416.00 L348.75,416.00 L350.25,416.00 L351.75,416.00 L353.25,416.00 L354.75,416.00 L356.25,416.00 L357.75,416.00 L359.25,416.00 L360.75,416.00 L362.25,416.00 L363.75,416.00 L365.25,416.00 L366.75,416.00 L368.25,416.00" fill="none" stroke="#214569" stroke-width="1.75" stroke-linejoin="round" stroke-linecap="round"/>
<path d="M15.60,362.20 L15.60,556.80 L374.40,556.80" fill="none" stroke="#000" stroke-width="2.25"/>
<line x1="11.40" y1="368.70" x2="15.60" y2="368.70" stroke="#000" stroke-width="1.8"/>
<g transform="translate(7.60,368.70) rotate(-90)"><text x="-2.78" y="0.00" font-size="10.0" font-family="Liberation Sans, sans-serif" fill="#000" stroke="#000" stroke-width="0.60">6</text></g>
<line x1="11.40" y1="429.00" x2="15.60" y2="429.00" stroke="#000" stroke-width="1.8"/>
<g transform="translate(7.60,429.00) rotate(-90)"><text x="-2.78" y="0.00" font-size="10.0" font-family="Liberation Sans, sans-serif" fill="#000" stroke="#000" stroke-width="0.60">4</text></g>
<line x1="11.40" y1="489.60" x2="15.60" y2="489.60" stroke="#000" stroke-width="1.8"/>
<g transform="translate(7.60,489.60) rotate(-90)"><text x="-2.78" y="0.00" font-size="10.0" font-family="Liberation Sans, sans-serif" fill="#000" stroke="#000" stroke-width="0.60">2</text></g>
<line x1="11.40" y1="550.10" x2="15.60" y2="550.10" stroke="#000" stroke-width="1.8"/>
<g transform="translate(7.60,550.10) rotate(-90)"><text x="-2.78" y="0.00" font-size="10.0" font-family="Liberation Sans, sans-serif" fill="#000" stroke="#000" stroke-width="0.60">0</text></g>
<line x1="21.70" y1="556.80" x2="21.70" y2="561.00" stroke="#000" stroke-width="1.8"/>
<text x="18.92" y="572.40" font-size="10.0" font-family="Liberation Sans, sans-serif" fill="#000" stroke="#000" stroke-width="0.60">0</text>
<line x1="132.03" y1="556.80" x2="132.03" y2="561.00" stroke="#000" stroke-width="1.8"/>
<path d="M133.20,564.80 L132.00,564.80 C131.85,565.70 131.25,566.40 130.00,566.50 L130.00,567.45 C130.95,567.45 131.60,567.20 132.00,566.85 L132.00,572.40 L133.20,572.40 Z" fill="#000"/>
<line x1="242.36" y1="556.80" x2="242.36" y2="561.00" stroke="#000" stroke-width="1.8"/>
<text x="239.58" y="572.40" font-size="10.0" font-family="Liberation Sans, sans-serif" fill="#000" stroke="#000" stroke-width="0.60">2</text>
<line x1="352.69" y1="556.80" x2="352.69" y2="561.00" stroke="#000" stroke-width="1.8"/>
<text x="349.91" y="572.40" font-size="10.0" font-family="Liberation Sans, sans-serif" fill="#000" stroke="#000" stroke-width="0.60">3</text>
<text x="195.00" y="582.50" text-anchor="middle" font-size="10.2" font-family="Liberation Sans, sans-serif" fill="#000" stroke="#000" stroke-width="0.60">frequency</text>
<text x="195.10" y="346.90" text-anchor="middle" font-size="10.15" font-family="Liberation Sans, sans-serif" fill="#1a2850" stroke="#1a2850" stroke-width="0.60">Breitung-Candelon Spectral Granger-causality Test</text>
<text transform="translate(175.44,358.80) scale(0.860,1)" font-size="9.0" font-weight="bold" font-family="Liberation Sans, sans-serif" fill="#111">SI</text>
<path d="M185.35,354.60 H191.65 M185.35,357.20 H191.65" stroke="#111" stroke-width="1.15" fill="none"/><path d="M189.95,352.90 L193.65,355.90 L189.95,358.90" stroke="#111" stroke-width="1.3" fill="none" stroke-linejoin="miter"/>
<text transform="translate(196.25,358.80) scale(0.860,1)" font-size="9.0" font-weight="bold" font-family="Liberation Sans, sans-serif" fill="#111">BTC</text>
<rect x="40.00" y="590.90" width="310.40" height="18.20" fill="#fff" stroke="#000" stroke-width="1.8"/>
<line x1="44.45" y1="600.27" x2="82.30" y2="600.27" stroke="#214569" stroke-width="2.1"/>
<text x="88.04" y="604.19" font-size="10.2" font-family="Liberation Sans, sans-serif" fill="#000" stroke="#000" stroke-width="0.60">Test Statistic</text>
<line x1="161.37" y1="600.27" x2="199.23" y2="600.27" stroke="#86303d" stroke-width="2.1"/>
<text x="204.56" y="604.19" font-size="10.2" font-family="Liberation Sans, sans-serif" fill="#000" stroke="#000" stroke-width="0.60">5% C.V.</text>
<line x1="256.95" y1="600.27" x2="294.80" y2="600.27" stroke="#56663b" stroke-width="2.1"/>
<text x="301.72" y="604.19" font-size="10.2" font-family="Liberation Sans, sans-serif" fill="#000" stroke="#000" stroke-width="0.60">10% C.V.</text>
<text x="119.15" y="655.60" font-size="30.6" font-family="Liberation Serif, serif" fill="#000" stroke="#000" stroke-width="0.35">SI</text>
<path d="M154.20,647.70 H182.50" stroke="#000" stroke-width="2.1" fill="none"/><path d="M176.30,642.00 Q179.90,646.00 183.30,647.70 Q179.90,649.40 176.30,653.20" stroke="#000" stroke-width="2.0" fill="none" stroke-linejoin="round"/>
<text x="192.35" y="655.60" font-size="30.6" font-family="Liberation Serif, serif" fill="#000" stroke="#000" stroke-width="0.35">BTC</text>
<line x1="432.30" y1="367.70" x2="790.50" y2="367.70" stroke="#e7eef1" stroke-width="1.3"/>
<line x1="432.30" y1="426.70" x2="790.50" y2="426.70" stroke="#e7eef1" stroke-width="1.3"/>
<line x1="432.30" y1="485.90" x2="790.50" y2="485.90" stroke="#e7eef1" stroke-width="1.3"/>
<line x1="432.30" y1="545.30" x2="790.50" y2="545.30" stroke="#e7eef1" stroke-width="1.3"/>
<line x1="436.50" y1="367.70" x2="784.90" y2="367.70" stroke="#86303d" stroke-width="1.80"/>
<line x1="436.50" y1="408.80" x2="784.90" y2="408.80" stroke="#56663b" stroke-width="1.80"/>
<path d="M436.60,464.70 L438.10,464.75 L439.60,464.81 L441.09,464.89 L442.59,464.98 L444.08,465.09 L445.57,465.24 L447.05,465.43 L448.52,465.67 L449.98,465.97 L451.43,466.33 L452.86,466.76 L454.26,467.24 L455.65,467.79 L457.02,468.39 L458.35,469.04 L459.66,469.76 L460.94,470.53 L462.18,471.35 L463.39,472.22 L464.57,473.14 L465.72,474.10 L466.84,475.08 L467.93,476.10 L469.00,477.15 L470.05,478.22 L471.07,479.32 L472.06,480.44 L473.03,481.58 L473.97,482.74 L474.89,483.93 L475.79,485.12 L476.67,486.34 L477.53,487.56 L478.38,488.80 L479.20,490.05 L480.02,491.31 L480.82,492.58 L481.61,493.85 L482.39,495.13 L483.16,496.42 L483.92,497.71 L484.68,499.01 L485.43,500.31 L486.18,501.61 L486.92,502.91 L487.67,504.21 L488.43,505.50 L489.20,506.79 L489.97,508.07 L490.75,509.35 L491.55,510.63 L492.35,511.89 L493.17,513.15 L494.00,514.39 L494.86,515.62 L495.74,516.83 L496.64,518.03 L497.58,519.19 L498.54,520.34 L499.53,521.46 L500.55,522.56 L501.60,523.63 L502.68,524.66 L503.78,525.67 L504.92,526.64 L506.08,527.58 L507.28,528.48 L508.50,529.34 L509.74,530.17 L511.01,530.96 L512.31,531.70 L513.62,532.41 L514.96,533.07 L516.32,533.69 L517.70,534.27 L519.10,534.80 L520.51,535.30 L521.94,535.75 L523.37,536.15 L524.82,536.51 L526.29,536.82 L527.76,537.09 L529.24,537.31 L530.72,537.51 L532.21,537.67 L533.70,537.81 L535.20,537.93 L536.69,538.03 L538.19,538.11 L539.69,538.17 L541.18,538.21 L542.68,538.24 L544.18,538.24 L545.68,538.23 L547.18,538.21 L548.68,538.18 L550.18,538.15 L551.68,538.10 L553.18,538.05 L554.68,537.99 L556.18,537.93 L557.67,537.86 L559.17,537.79 L560.67,537.70 L562.17,537.61 L563.66,537.51 L565.16,537.40 L566.66,537.29 L568.15,537.18 L569.65,537.06 L571.14,536.95 L572.64,536.84 L574.13,536.73 L575.63,536.62 L577.13,536.51 L578.62,536.41 L580.12,536.31 L581.62,536.22 L583.11,536.12 L584.61,536.03 L586.11,535.94 L587.60,535.85 L589.10,535.76 L590.60,535.67 L592.10,535.58 L593.59,535.50 L595.09,535.41 L596.59,535.33 L598.09,535.24 L599.58,535.16 L601.08,535.07 L602.58,534.99 L604.08,534.91 L605.58,534.83 L607.07,534.75 L608.57,534.67 L610.07,534.60 L611.57,534.52 L613.07,534.45 L614.56,534.38 L616.06,534.31 L617.56,534.24 L619.06,534.18 L620.56,534.12 L622.06,534.06 L623.56,534.00 L625.06,533.94 L626.55,533.89 L628.05,533.83 L629.55,533.78 L631.05,533.73 L632.55,533.68 L634.05,533.63 L635.55,533.58 L637.05,533.54 L638.55,533.49 L640.05,533.45 L641.55,533.40 L643.05,533.36 L644.55,533.32 L646.04,533.28 L647.54,533.24 L649.04,533.20 L650.54,533.16 L652.04,533.12 L653.54,533.08 L655.04,533.04 L656.54,533.01 L658.04,532.97 L659.54,532.93 L661.04,532.90 L662.54,532.86 L664.04,532.83 L665.54,532.79 L667.04,532.76 L668.54,532.73 L670.04,532.69 L671.54,532.66 L673.04,532.63 L674.54,532.60 L676.04,532.57 L677.54,532.54 L679.04,532.51 L680.54,532.48 L682.04,532.45 L683.53,532.42 L685.03,532.39 L686.53,532.36 L688.03,532.34 L689.53,532.31 L691.03,532.28 L692.53,532.25 L694.03,532.22 L695.53,532.19 L697.03,532.16 L698.53,532.14 L700.03,532.11 L701.53,532.08 L703.03,532.05 L704.53,532.02 L706.03,531.99 L707.53,531.97 L709.03,531.94 L710.53,531.92 L712.03,531.90 L713.53,531.88 L715.03,531.86 L716.53,531.84 L718.03,531.83 L719.53,531.82 L721.03,531.81 L722.53,531.81 L724.03,531.80 L725.53,531.80 L727.03,531.80 L728.53,531.80 L730.03,531.80 L731.53,531.80 L733.03,531.80 L734.53,531.80 L736.03,531.80 L737.53,531.80 L739.03,531.80 L740.53,531.80 L742.03,531.80 L743.53,531.80 L745.03,531.80 L746.53,531.80 L748.03,531.80 L749.53,531.80 L751.03,531.80 L752.53,531.80 L754.03,531.80 L755.53,531.80 L757.03,531.80 L758.53,531.81 L760.03,531.81 L761.53,531.81 L763.03,531.82 L764.53,531.83 L766.03,531.83 L767.53,531.84 L769.03,531.85 L770.53,531.87 L772.03,531.88 L773.53,531.89 L775.03,531.90 L776.53,531.92 L778.03,531.93 L779.53,531.95 L781.03,531.96 L782.53,531.98 L784.03,531.99 L784.53,532.00" fill="none" stroke="#214569" stroke-width="1.75" stroke-linejoin="round" stroke-linecap="round"/>
<path d="M429.80,361.50 L429.80,552.00 L790.50,552.00" fill="none" stroke="#000" stroke-width="2.25"/>
<line x1="425.60" y1="367.70" x2="429.80" y2="367.70" stroke="#000" stroke-width="1.8"/>
<g transform="translate(421.80,367.70) rotate(-90)"><text x="-2.78" y="0.00" font-size="10.0" font-family="Liberation Sans, sans-serif" fill="#000" stroke="#000" stroke-width="0.60">6</text></g>
<line x1="425.60" y1="426.70" x2="429.80" y2="426.70" stroke="#000" stroke-width="1.8"/>
<g transform="translate(421.80,426.70) rotate(-90)"><text x="-2.78" y="0.00" font-size="10.0" font-family="Liberation Sans, sans-serif" fill="#000" stroke="#000" stroke-width="0.60">4</text></g>
<line x1="425.60" y1="485.90" x2="429.80" y2="485.90" stroke="#000" stroke-width="1.8"/>
<g transform="translate(421.80,485.90) rotate(-90)"><text x="-2.78" y="0.00" font-size="10.0" font-family="Liberation Sans, sans-serif" fill="#000" stroke="#000" stroke-width="0.60">2</text></g>
<line x1="425.60" y1="545.30" x2="429.80" y2="545.30" stroke="#000" stroke-width="1.8"/>
<g transform="translate(421.80,545.30) rotate(-90)"><text x="-2.78" y="0.00" font-size="10.0" font-family="Liberation Sans, sans-serif" fill="#000" stroke="#000" stroke-width="0.60">0</text></g>
<line x1="436.00" y1="552.00" x2="436.00" y2="556.20" stroke="#000" stroke-width="1.8"/>
<text x="433.22" y="567.60" font-size="10.0" font-family="Liberation Sans, sans-serif" fill="#000" stroke="#000" stroke-width="0.60">0</text>
<line x1="547.07" y1="552.00" x2="547.07" y2="556.20" stroke="#000" stroke-width="1.8"/>
<path d="M548.24,560.00 L547.04,560.00 C546.89,560.90 546.29,561.60 545.04,561.70 L545.04,562.65 C545.99,562.65 546.64,562.40 547.04,562.05 L547.04,567.60 L548.24,567.60 Z" fill="#000"/>
<line x1="658.14" y1="552.00" x2="658.14" y2="556.20" stroke="#000" stroke-width="1.8"/>
<text x="655.36" y="567.60" font-size="10.0" font-family="Liberation Sans, sans-serif" fill="#000" stroke="#000" stroke-width="0.60">2</text>
<line x1="769.21" y1="552.00" x2="769.21" y2="556.20" stroke="#000" stroke-width="1.8"/>
<text x="766.43" y="567.60" font-size="10.0" font-family="Liberation Sans, sans-serif" fill="#000" stroke="#000" stroke-width="0.60">3</text>
<text x="610.00" y="577.70" text-anchor="middle" font-size="10.2" font-family="Liberation Sans, sans-serif" fill="#000" stroke="#000" stroke-width="0.60">frequency</text>
<text x="610.00" y="346.20" text-anchor="middle" font-size="10.15" font-family="Liberation Sans, sans-serif" fill="#1a2850" stroke="#1a2850" stroke-width="0.60">Breitung-Candelon Spectral Granger-causality Test</text>
<text transform="translate(592.14,357.80) scale(0.860,1)" font-size="9.0" font-weight="bold" font-family="Liberation Sans, sans-serif" fill="#111">II</text>
<path d="M599.05,353.60 H605.35 M599.05,356.20 H605.35" stroke="#111" stroke-width="1.15" fill="none"/><path d="M603.65,351.90 L607.35,354.90 L603.65,357.90" stroke="#111" stroke-width="1.3" fill="none" stroke-linejoin="miter"/>
<text transform="translate(609.95,357.80) scale(0.860,1)" font-size="9.0" font-weight="bold" font-family="Liberation Sans, sans-serif" fill="#111">BTC</text>
<rect x="453.70" y="584.70" width="313.70" height="19.00" fill="#fff" stroke="#000" stroke-width="1.8"/>
<line x1="458.19" y1="594.49" x2="496.45" y2="594.49" stroke="#214569" stroke-width="2.1"/>
<text x="502.25" y="598.57" font-size="10.2" font-family="Liberation Sans, sans-serif" fill="#000" stroke="#000" stroke-width="0.60">Test Statistic</text>
<line x1="576.36" y1="594.49" x2="614.62" y2="594.49" stroke="#86303d" stroke-width="2.1"/>
<text x="620.01" y="598.57" font-size="10.2" font-family="Liberation Sans, sans-serif" fill="#000" stroke="#000" stroke-width="0.60">5% C.V.</text>
<line x1="672.96" y1="594.49" x2="711.21" y2="594.49" stroke="#56663b" stroke-width="2.1"/>
<text x="718.20" y="598.57" font-size="10.2" font-family="Liberation Sans, sans-serif" fill="#000" stroke="#000" stroke-width="0.60">10% C.V.</text>
<text x="537.30" y="655.60" font-size="30.6" font-family="Liberation Serif, serif" fill="#000" stroke="#000" stroke-width="0.35">II</text>
<path d="M566.00,647.70 H594.40" stroke="#000" stroke-width="2.1" fill="none"/><path d="M588.20,642.00 Q591.80,646.00 595.20,647.70 Q591.80,649.40 588.20,653.20" stroke="#000" stroke-width="2.0" fill="none" stroke-linejoin="round"/>
<text x="603.85" y="655.60" font-size="30.6" font-family="Liberation Serif, serif" fill="#000" stroke="#000" stroke-width="0.35">BTC</text>
<line x1="841.90" y1="368.20" x2="1195.60" y2="368.20" stroke="#e7eef1" stroke-width="1.3"/>
<line x1="841.90" y1="404.00" x2="1195.60" y2="404.00" stroke="#e7eef1" stroke-width="1.3"/>
<line x1="841.90" y1="439.90" x2="1195.60" y2="439.90" stroke="#e7eef1" stroke-width="1.3"/>
<line x1="841.90" y1="475.70" x2="1195.60" y2="475.70" stroke="#e7eef1" stroke-width="1.3"/>
<line x1="841.90" y1="511.60" x2="1195.60" y2="511.60" stroke="#e7eef1" stroke-width="1.3"/>
<line x1="841.90" y1="547.40" x2="1195.60" y2="547.40" stroke="#e7eef1" stroke-width="1.3"/>
<line x1="846.10" y1="368.20" x2="1190.20" y2="368.20" stroke="#86303d" stroke-width="1.80"/>
<line x1="846.10" y1="418.20" x2="1190.20" y2="418.20" stroke="#56663b" stroke-width="1.80"/>
<path d="M846.20,480.70 L847.63,480.29 L849.05,479.85 L850.44,479.36 L851.80,478.78 L853.10,478.11 L854.36,477.34 L855.56,476.49 L856.69,475.55 L857.77,474.54 L858.80,473.46 L859.77,472.34 L860.71,471.17 L861.61,469.98 L862.48,468.77 L863.34,467.54 L864.19,466.30 L865.03,465.06 L865.86,463.81 L866.70,462.57 L867.53,461.32 L868.37,460.07 L869.20,458.83 L870.04,457.58 L870.87,456.34 L871.71,455.09 L872.54,453.84 L873.37,452.59 L874.19,451.34 L875.02,450.09 L875.85,448.84 L876.69,447.60 L877.54,446.37 L878.42,445.15 L879.32,443.96 L880.25,442.79 L881.21,441.66 L882.23,440.58 L883.30,439.57 L884.43,438.66 L885.62,437.86 L886.88,437.21 L888.20,436.73 L889.56,436.43 L890.95,436.35 L892.33,436.46 L893.70,436.77 L895.03,437.26 L896.30,437.91 L897.52,438.70 L898.67,439.59 L899.77,440.57 L900.82,441.62 L901.83,442.72 L902.80,443.86 L903.74,445.02 L904.65,446.20 L905.55,447.40 L906.44,448.61 L907.31,449.83 L908.18,451.05 L909.04,452.29 L909.88,453.52 L910.72,454.77 L911.54,456.02 L912.35,457.28 L913.14,458.56 L913.91,459.84 L914.67,461.13 L915.42,462.43 L916.16,463.74 L916.89,465.05 L917.63,466.35 L918.37,467.66 L919.12,468.95 L919.89,470.24 L920.67,471.52 L921.46,472.80 L922.27,474.06 L923.09,475.31 L923.92,476.56 L924.77,477.80 L925.63,479.02 L926.51,480.24 L927.39,481.45 L928.30,482.64 L929.22,483.83 L930.15,485.00 L931.11,486.16 L932.07,487.30 L933.05,488.44 L934.04,489.56 L935.05,490.67 L936.07,491.77 L937.11,492.85 L938.17,493.91 L939.25,494.95 L940.34,495.97 L941.46,496.97 L942.59,497.96 L943.73,498.92 L944.89,499.88 L946.06,500.82 L947.23,501.76 L948.41,502.68 L949.59,503.60 L950.79,504.51 L951.99,505.40 L953.20,506.28 L954.43,507.15 L955.67,507.99 L956.91,508.82 L958.17,509.64 L959.44,510.44 L960.70,511.25 L961.97,512.04 L963.25,512.83 L964.52,513.62 L965.81,514.38 L967.11,515.13 L968.42,515.86 L969.74,516.56 L971.08,517.24 L972.43,517.90 L973.79,518.53 L975.16,519.13 L976.54,519.71 L977.93,520.26 L979.33,520.79 L980.74,521.30 L982.16,521.79 L983.58,522.26 L985.00,522.74 L986.42,523.21 L987.85,523.69 L989.27,524.16 L990.70,524.63 L992.12,525.09 L993.55,525.54 L994.99,525.98 L996.42,526.41 L997.86,526.82 L999.31,527.22 L1000.76,527.61 L1002.21,527.97 L1003.67,528.33 L1005.13,528.66 L1006.60,528.98 L1008.07,529.28 L1009.54,529.56 L1011.01,529.83 L1012.49,530.08 L1013.97,530.33 L1015.45,530.56 L1016.93,530.79 L1018.42,531.02 L1019.90,531.24 L1021.38,531.46 L1022.87,531.68 L1024.35,531.91 L1025.83,532.13 L1027.32,532.35 L1028.80,532.56 L1030.29,532.77 L1031.77,532.97 L1033.26,533.17 L1034.75,533.36 L1036.24,533.54 L1037.73,533.71 L1039.22,533.88 L1040.71,534.04 L1042.20,534.20 L1043.69,534.35 L1045.19,534.50 L1046.68,534.64 L1048.17,534.78 L1049.67,534.92 L1051.16,535.06 L1052.65,535.19 L1054.15,535.32 L1055.64,535.45 L1057.14,535.57 L1058.63,535.68 L1060.13,535.79 L1061.63,535.89 L1063.12,535.99 L1064.62,536.08 L1066.12,536.18 L1067.61,536.27 L1069.11,536.37 L1070.61,536.46 L1072.10,536.56 L1073.60,536.65 L1075.10,536.75 L1076.60,536.84 L1078.09,536.93 L1079.59,537.02 L1081.09,537.10 L1082.58,537.19 L1084.08,537.27 L1085.58,537.35 L1087.08,537.43 L1088.58,537.50 L1090.07,537.58 L1091.57,537.64 L1093.07,537.71 L1094.57,537.77 L1096.07,537.82 L1097.57,537.88 L1099.07,537.92 L1100.57,537.97 L1102.07,538.01 L1103.57,538.05 L1105.07,538.10 L1106.56,538.14 L1108.06,538.18 L1109.56,538.22 L1111.06,538.27 L1112.56,538.31 L1114.06,538.36 L1115.56,538.41 L1117.06,538.46 L1118.56,538.52 L1120.06,538.57 L1121.56,538.63 L1123.06,538.68 L1124.55,538.73 L1126.05,538.78 L1127.55,538.82 L1129.05,538.86 L1130.55,538.90 L1132.05,538.94 L1133.55,538.97 L1135.05,539.00 L1136.55,539.03 L1138.05,539.05 L1139.55,539.08 L1141.05,539.10 L1142.55,539.13 L1144.05,539.15 L1145.55,539.17 L1147.05,539.19 L1148.55,539.21 L1150.05,539.23 L1151.55,539.25 L1153.05,539.27 L1154.55,539.29 L1156.05,539.30 L1157.55,539.32 L1159.05,539.34 L1160.55,539.35 L1162.05,539.37 L1163.55,539.38 L1165.05,539.40 L1166.55,539.41 L1168.05,539.43 L1169.55,539.44 L1171.05,539.45 L1172.55,539.47 L1174.05,539.48 L1175.55,539.49 L1177.05,539.51 L1178.55,539.52 L1180.05,539.53 L1181.55,539.54 L1183.05,539.55 L1184.55,539.56 L1186.05,539.57 L1187.55,539.58 L1189.05,539.59 L1189.55,539.60" fill="none" stroke="#214569" stroke-width="1.75" stroke-linejoin="round" stroke-linecap="round"/>
<path d="M839.40,361.50 L839.40,553.90 L1195.60,553.90" fill="none" stroke="#000" stroke-width="2.25"/>
<line x1="835.20" y1="368.20" x2="839.40" y2="368.20" stroke="#000" stroke-width="1.8"/>
<g transform="translate(831.40,368.20) rotate(-90)"><text x="-2.78" y="0.00" font-size="10.0" font-family="Liberation Sans, sans-serif" fill="#000" stroke="#000" stroke-width="0.60">6</text></g>
<line x1="835.20" y1="404.00" x2="839.40" y2="404.00" stroke="#000" stroke-width="1.8"/>
<g transform="translate(831.40,404.00) rotate(-90)"><text x="-2.78" y="0.00" font-size="10.0" font-family="Liberation Sans, sans-serif" fill="#000" stroke="#000" stroke-width="0.60">5</text></g>
<line x1="835.20" y1="439.90" x2="839.40" y2="439.90" stroke="#000" stroke-width="1.8"/>
<g transform="translate(831.40,439.90) rotate(-90)"><text x="-2.78" y="0.00" font-size="10.0" font-family="Liberation Sans, sans-serif" fill="#000" stroke="#000" stroke-width="0.60">4</text></g>
<line x1="835.20" y1="475.70" x2="839.40" y2="475.70" stroke="#000" stroke-width="1.8"/>
<g transform="translate(831.40,475.70) rotate(-90)"><text x="-2.78" y="0.00" font-size="10.0" font-family="Liberation Sans, sans-serif" fill="#000" stroke="#000" stroke-width="0.60">3</text></g>
<line x1="835.20" y1="511.60" x2="839.40" y2="511.60" stroke="#000" stroke-width="1.8"/>
<g transform="translate(831.40,511.60) rotate(-90)"><text x="-2.78" y="0.00" font-size="10.0" font-family="Liberation Sans, sans-serif" fill="#000" stroke="#000" stroke-width="0.60">2</text></g>
<line x1="835.20" y1="547.40" x2="839.40" y2="547.40" stroke="#000" stroke-width="1.8"/>
<g transform="translate(831.40,547.40) rotate(-90)"><path d="M1.17,-7.60 L-0.03,-7.60 C-0.18,-6.70 -0.78,-6.00 -2.03,-5.90 L-2.03,-4.95 C-1.08,-4.95 -0.43,-5.20 -0.03,-5.55 L-0.03,0.00 L1.17,0.00 Z" fill="#000"/></g>
<line x1="845.30" y1="553.90" x2="845.30" y2="558.10" stroke="#000" stroke-width="1.8"/>
<text x="842.52" y="569.50" font-size="10.0" font-family="Liberation Sans, sans-serif" fill="#000" stroke="#000" stroke-width="0.60">0</text>
<line x1="955.07" y1="553.90" x2="955.07" y2="558.10" stroke="#000" stroke-width="1.8"/>
<path d="M956.24,561.90 L955.04,561.90 C954.89,562.80 954.29,563.50 953.04,563.60 L953.04,564.55 C953.99,564.55 954.64,564.30 955.04,563.95 L955.04,569.50 L956.24,569.50 Z" fill="#000"/>
<line x1="1064.84" y1="553.90" x2="1064.84" y2="558.10" stroke="#000" stroke-width="1.8"/>
<text x="1062.06" y="569.50" font-size="10.0" font-family="Liberation Sans, sans-serif" fill="#000" stroke="#000" stroke-width="0.60">2</text>
<line x1="1174.61" y1="553.90" x2="1174.61" y2="558.10" stroke="#000" stroke-width="1.8"/>
<text x="1171.83" y="569.50" font-size="10.0" font-family="Liberation Sans, sans-serif" fill="#000" stroke="#000" stroke-width="0.60">3</text>
<text x="1017.60" y="579.60" text-anchor="middle" font-size="10.2" font-family="Liberation Sans, sans-serif" fill="#000" stroke="#000" stroke-width="0.60">frequency</text>
<text x="1017.60" y="346.30" text-anchor="middle" font-size="10.15" font-family="Liberation Sans, sans-serif" fill="#1a2850" stroke="#1a2850" stroke-width="0.60">Breitung-Candelon Spectral Granger-causality Test</text>
<text transform="translate(994.60,358.00) scale(0.860,1)" font-size="9.0" font-weight="bold" font-family="Liberation Sans, sans-serif" fill="#111">MCI</text>
<path d="M1011.39,353.80 H1017.69 M1011.39,356.40 H1017.69" stroke="#111" stroke-width="1.15" fill="none"/><path d="M1015.99,352.10 L1019.69,355.10 L1015.99,358.10" stroke="#111" stroke-width="1.3" fill="none" stroke-linejoin="miter"/>
<text transform="translate(1022.29,358.00) scale(0.860,1)" font-size="9.0" font-weight="bold" font-family="Liberation Sans, sans-serif" fill="#111">BTC</text>
<rect x="862.50" y="587.20" width="309.60" height="19.10" fill="#fff" stroke="#000" stroke-width="1.8"/>
<line x1="866.94" y1="597.04" x2="904.69" y2="597.04" stroke="#214569" stroke-width="2.1"/>
<text x="910.41" y="601.14" font-size="10.2" font-family="Liberation Sans, sans-serif" fill="#000" stroke="#000" stroke-width="0.60">Test Statistic</text>
<line x1="983.56" y1="597.04" x2="1021.32" y2="597.04" stroke="#86303d" stroke-width="2.1"/>
<text x="1026.64" y="601.14" font-size="10.2" font-family="Liberation Sans, sans-serif" fill="#000" stroke="#000" stroke-width="0.60">5% C.V.</text>
<line x1="1078.89" y1="597.04" x2="1116.65" y2="597.04" stroke="#56663b" stroke-width="2.1"/>
<text x="1123.55" y="601.14" font-size="10.2" font-family="Liberation Sans, sans-serif" fill="#000" stroke="#000" stroke-width="0.60">10% C.V.</text>
<text x="926.75" y="655.60" font-size="30.6" font-family="Liberation Serif, serif" fill="#000" stroke="#000" stroke-width="0.35">MCI</text>
<path d="M992.90,647.70 H1021.00" stroke="#000" stroke-width="2.1" fill="none"/><path d="M1014.80,642.00 Q1018.40,646.00 1021.80,647.70 Q1018.40,649.40 1014.80,653.20" stroke="#000" stroke-width="2.0" fill="none" stroke-linejoin="round"/>
<text x="1030.88" y="655.60" font-size="30.6" font-family="Liberation Serif, serif" fill="#000" stroke="#000" stroke-width="0.35">BTC</text>
</svg>
</body></html>
